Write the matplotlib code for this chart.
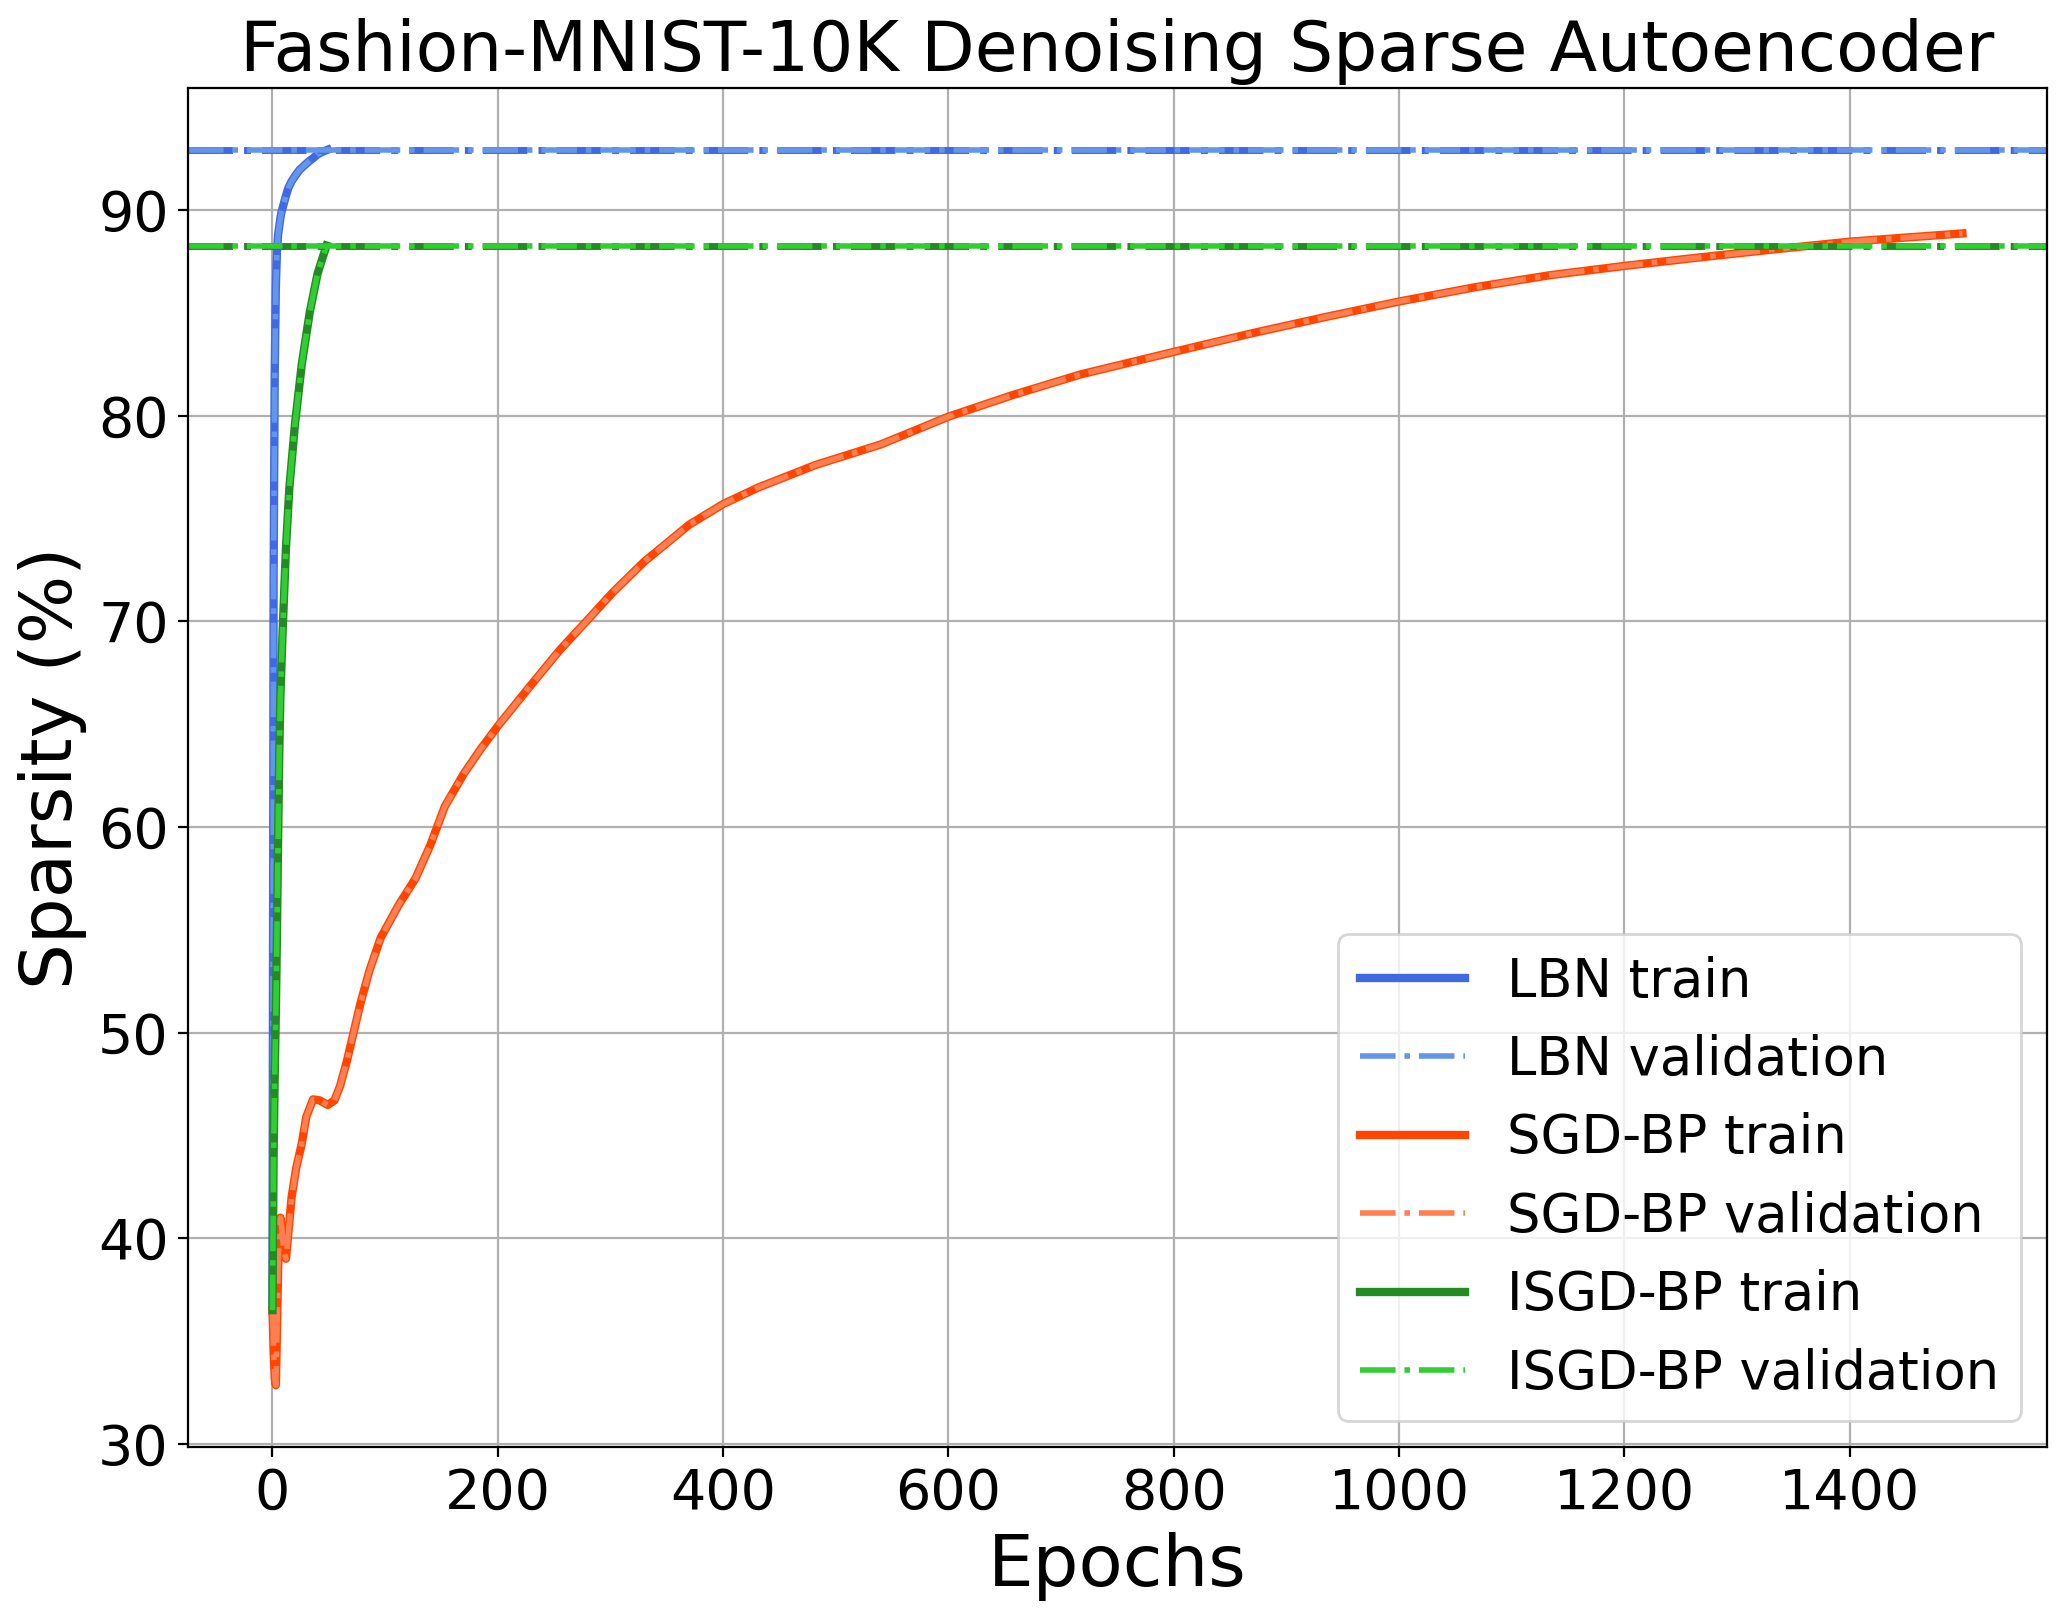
import numpy as np
import matplotlib
matplotlib.use("Agg")
import matplotlib.pyplot as plt

# values (epoch, sparsity %)
lbn_epochs = [0, 1, 2, 3, 4, 5, 6, 7, 8, 10, 12, 14, 17, 20, 24, 28, 32, 36, 40, 44, 49]
lbn_train = [36.7, 72.0, 82.0, 86.3, 88.0, 88.8, 89.2, 89.6, 89.9, 90.3, 90.7, 91.06,
             91.4, 91.65, 91.95, 92.15, 92.35, 92.52, 92.7, 92.82, 92.93]
lbn_val = list(lbn_train)

sgd_epochs = [0, 1, 2, 3, 4, 5, 6, 7, 8, 10, 12, 14, 17, 21, 26, 30, 36, 42, 49, 55,
              60, 66, 72, 78, 86, 96, 112, 127, 140, 153, 170, 185, 200, 228, 255, 282,
              302, 330, 350, 370, 400, 431, 482, 540, 600, 657, 717, 800, 869, 935, 1000,
              1068, 1134, 1200, 1266, 1332, 1400, 1450, 1500]
sgd_train = [36.5, 34.5, 33.2, 32.85, 35.5, 38.5, 40.6, 41.0, 40.6, 39.4, 39.0, 40.2,
             42.0, 43.4, 44.6, 45.9, 46.75, 46.7, 46.48, 46.7, 47.4, 48.6, 50.0, 51.4,
             53.0, 54.6, 56.2, 57.5, 59.1, 61.0, 62.6, 63.8, 64.9, 66.8, 68.6, 70.2,
             71.4, 72.9, 73.8, 74.7, 75.7, 76.5, 77.6, 78.6, 79.95, 81.0, 82.0, 83.1, 84.0,
             84.8, 85.55, 86.25, 86.83, 87.28, 87.69, 88.08, 88.46, 88.66, 88.86]
sgd_val = list(sgd_train)

isgd_epochs = [0, 1, 2, 3, 4, 5, 6, 7, 9, 12, 15, 20, 26, 33, 40, 44, 48]
isgd_train = [36.5, 44.0, 48.0, 51.0, 55.0, 59.4, 63.5, 66.3, 69.5, 73.6, 76.5, 79.6,
              82.5, 85.0, 86.9, 87.6, 88.27]
isgd_val = list(isgd_train)

fig = plt.figure(figsize=(10.34, 8.1), dpi=200)
ax = fig.add_axes([0.0909, 0.1068, 0.8989, 0.8389])

ax.plot(lbn_epochs, lbn_train, color='royalblue', lw=3, label='LBN train')
ax.plot(lbn_epochs, lbn_val, color='cornflowerblue', lw=2, ls='-.', label='LBN validation')
ax.plot(sgd_epochs, sgd_train, color='orangered', lw=3, label='SGD-BP train')
ax.plot(sgd_epochs, sgd_val, color='coral', lw=2, ls='-.', label='SGD-BP validation')
ax.plot(isgd_epochs, isgd_train, color='forestgreen', lw=3, label='ISGD-BP train')
ax.plot(isgd_epochs, isgd_val, color='limegreen', lw=2, ls='-.', label='ISGD-BP validation')

# final levels of the two fast methods
ax.axhline(lbn_train[-1], color='royalblue', lw=2.5, ls='-.')
ax.axhline(lbn_val[-1], color='cornflowerblue', lw=2, ls='-.')
ax.axhline(isgd_train[-1], color='forestgreen', lw=2.5, ls='-.')
ax.axhline(isgd_val[-1], color='limegreen', lw=2, ls='-.')

ax.set_title("Fashion-MNIST-10K Denoising Sparse Autoencoder", fontsize=25)
ax.set_xlabel("Epochs", fontsize=26)
ax.set_ylabel("Sparsity (%)", fontsize=26)
ax.tick_params(labelsize=20)
ax.grid(True)
ax.legend(loc='lower right', fontsize=19)

fig.savefig("out.png", dpi=200)
